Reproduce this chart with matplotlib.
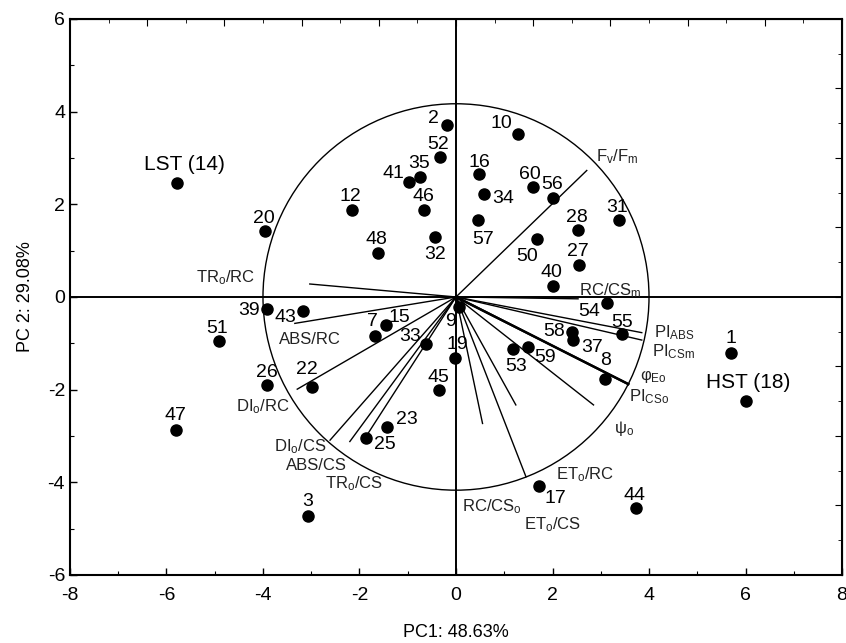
import matplotlib
matplotlib.use("Agg")
import matplotlib.pyplot as plt
from matplotlib.patches import Ellipse
from matplotlib.ticker import MultipleLocator

plt.rcParams['font.family'] = ['Liberation Sans', 'DejaVu Sans']
plt.rcParams['mathtext.fontset'] = 'custom'
plt.rcParams['mathtext.rm'] = 'Liberation Sans'
plt.rcParams['mathtext.it'] = 'Liberation Sans'
plt.rcParams['axes.unicode_minus'] = False

# sample scores (PC1, PC2)
sample_ids = ['LST (14)', '20', '12', '48', '32', '46', '41', '35', '52', '2',
              '39', '43', '51', '7', '15', '9', '33', '19', '26', '22',
              '45', '47', '23', '25', '3', '10', '16', '34', '60', '56',
              '57', '50', '28', '27', '31', '40', '54', '55', '58', '37',
              '8', '53', '59', '1', 'HST (18)', '17', '44']
pc1 = [-5.78, -3.96, -2.16, -1.61, -0.44, -0.66, -0.97, -0.75, -0.33, -0.19,
       -3.92, -3.18, -4.91, -1.68, -1.45, 0.07, -0.63, -0.02, -3.92, -2.99,
       -0.35, -5.80, -1.42, -1.87, -3.06, 1.28, 0.48, 0.58, 1.59, 2.02,
       0.45, 1.67, 2.52, 2.55, 3.38, 2.00, 3.12, 3.45, 2.40, 2.42,
       3.09, 1.19, 1.49, 5.69, 6.02, 1.71, 3.74]
pc2 = [2.47, 1.43, 1.88, 0.94, 1.30, 1.88, 2.49, 2.60, 3.02, 3.71,
       -0.27, -0.30, -0.94, -0.84, -0.60, -0.22, -1.02, -1.32, -1.90, -1.94,
       -2.01, -2.87, -2.81, -3.04, -4.72, 3.52, 2.65, 2.22, 2.37, 2.14,
       1.66, 1.25, 1.45, 0.69, 1.66, 0.24, -0.14, -0.80, -0.75, -0.93,
       -1.77, -1.13, -1.07, -1.22, -2.24, -4.08, -4.56]

# variable loadings (scaled)
var_names = ['TR$_\\mathrm{o}$/RC', 'ABS/RC', 'DI$_\\mathrm{o}$/RC', 'DI$_\\mathrm{o}$/CS',
             'ABS/CS', 'TR$_\\mathrm{o}$/CS', 'F$_\\mathrm{v}$/F$_\\mathrm{m}$',
             'RC/CS$_\\mathrm{m}$', 'PI$_\\mathrm{ABS}$', 'PI$_\\mathrm{CSm}$',
             '\u03c6$_\\mathrm{Eo}$', 'PI$_\\mathrm{CSo}$', '\u03c8$_\\mathrm{o}$',
             'ET$_\\mathrm{o}$/RC', 'RC/CS$_\\mathrm{o}$', 'ET$_\\mathrm{o}$/CS']
load1 = [-3.03, -3.34, -3.29, -2.61, -2.20, -1.82, 2.71,
         2.53, 3.85, 3.85, 3.57, 3.57, 2.85, 1.45, 0.55, 1.24]
load2 = [0.28, -0.57, -1.99, -3.09, -3.12, -2.94, 2.73,
         -0.04, -0.77, -0.93, -1.88, -1.88, -2.33, -3.88, -2.73, -2.33]

# text placement (layout only)
big = {'LST (14)', 'HST (18)'}
label_off = {'LST (14)': (7, 18), '20': (-1, 12), '12': (-1, 13), '48': (-2, 14),
             '32': (0, -18), '46': (-1, 13), '41': (-16, 8), '35': (-1, 13),
             '52': (-2, 13), '2': (-13, 7), '39': (-18, -1), '43': (-17, -7),
             '51': (-2, 12), '7': (-2, 14), '15': (13, 7), '9': (-9, -14),
             '33': (-16, 8), '19': (2, 14), '26': (0, 13), '22': (-5, 17),
             '45': (-1, 13), '47': (-1, 14), '23': (19, 8), '25': (19, -7),
             '3': (-1, 14), '10': (-16, 10), '16': (0, 12), '34': (19, -4),
             '60': (-3, 13), '56': (-1, 13), '57': (5, -19), '50': (-9, -17),
             '28': (-1, 12), '27': (-1, 13), '31': (-2, 13), '40': (-1, 13),
             '54': (-17, -8), '55': (0, 12), '58': (-18, 0), '37': (19, -7),
             '8': (0, 18), '53': (3, -17), '59': (17, -11), '1': (0, 15),
             'HST (18)': (2, 18), '17': (17, -12), '44': (-2, 13)}
var_text_xy = [(-4.77, 0.41), (-3.02, -0.91), (-4.01, -2.37), (-3.22, -3.23),
               (-2.90, -3.63), (-2.11, -4.02), (3.33, 3.03), (3.2, 0.14),
               (4.53, -0.78), (4.50, -1.18), (4.08, -1.72), (4.0, -2.15),
               (3.48, -2.83), (2.68, -3.84), (0.74, -4.53), (2.0, -4.92)]

fig = plt.figure(figsize=(8.46, 6.43), dpi=100)
ax = fig.add_axes([0.0827, 0.1058, 0.9126, 0.8647])

ax.axhline(0, color='black', lw=1.4, zorder=1)
ax.axvline(0, color='black', lw=1.4, zorder=1)
ax.add_patch(Ellipse((0, 0), 8.0, 8.34, fill=False, ec='black', lw=1.0, zorder=1))

for i, name in enumerate(var_names):
    w = 1.7 if i in (10, 11) else 1.0
    ax.plot([0, load1[i]], [0, load2[i]], color='black', lw=w, zorder=2)
    ax.text(var_text_xy[i][0], var_text_xy[i][1], name, fontsize=12,
            ha='center', va='center', color='#222222')

ax.plot(pc1, pc2, 'o', color='black', ms=8, zorder=3)
for i, lab in enumerate(sample_ids):
    dx, dy = label_off[lab]
    ax.annotate(lab, (pc1[i], pc2[i]), xytext=(dx * 0.72, dy * 0.72),
                textcoords='offset points', ha='center', va='center',
                fontsize=15 if lab in big else 14)

ax.set_xlim(-8, 8)
ax.set_ylim(-6, 6)
ax.xaxis.set_major_locator(MultipleLocator(2))
ax.xaxis.set_minor_locator(MultipleLocator(1))
ax.yaxis.set_major_locator(MultipleLocator(2))
ax.yaxis.set_minor_locator(MultipleLocator(1))
ax.tick_params(which='both', direction='in', labelsize=14)
ax.tick_params(which='major', length=5, width=1)
ax.tick_params(which='minor', length=3, width=0.8)
ax.tick_params(axis='x', pad=9)

# unlabeled top and right scales
top = ax.secondary_xaxis('top')
top.set_xticks([-6.4, -4.8, -3.2, -1.6, 0, 1.6, 3.2, 4.8, 6.4])
top.set_xticks([-7.2, -5.6, -4.0, -2.4, -0.8, 0.8, 2.4, 4.0, 5.6, 7.2], minor=True)
top.tick_params(which='both', direction='in', labeltop=False)
top.tick_params(which='major', length=5)
top.tick_params(which='minor', length=3)
right = ax.secondary_yaxis('right')
right.set_yticks([-4.5, -3, -1.5, 0, 1.5, 3, 4.5])
right.set_yticks([-5.25, -3.75, -2.25, -0.75, 0.75, 2.25, 3.75, 5.25], minor=True)
right.tick_params(which='both', direction='in', labelright=False)
right.tick_params(which='major', length=5)
right.tick_params(which='minor', length=3)

for s in ax.spines.values():
    s.set_linewidth(1.5)

ax.set_xlabel('PC1: 48.63%', fontsize=13, labelpad=14)
ax.set_ylabel('PC 2: 29.08%', fontsize=13, labelpad=10)

fig.savefig('out.png', dpi=100)
